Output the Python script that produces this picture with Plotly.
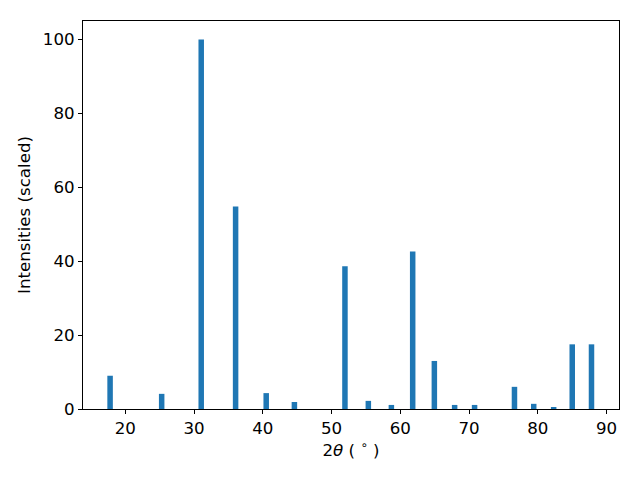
import plotly.graph_objects as go

two_theta = [17.8, 25.3, 31.05, 36.05, 40.5, 44.6, 51.95, 55.35, 58.7, 61.8,
             64.95, 67.9, 70.8, 76.6, 79.4, 82.3, 85.0, 87.8]
intensity = [9.0, 4.1, 100.0, 54.8, 4.3, 1.9, 38.6, 2.2, 1.1, 42.6,
             13.0, 1.1, 1.1, 6.0, 1.4, 0.5, 17.5, 17.5]

fig = go.Figure(go.Bar(x=two_theta, y=intensity, width=0.8,
                       marker=dict(color="#1f77b4", line=dict(width=0))))

FS = 16.67
axis_common = dict(showgrid=False, zeroline=False, showline=True, linecolor="black",
                   linewidth=1, mirror=True, ticks="outside", ticklen=4, tickwidth=1,
                   tickcolor="black", tickfont=dict(size=FS, color="black"))

fig.update_layout(
    width=632, height=472,
    margin=dict(l=75, r=21, t=13, b=71),
    paper_bgcolor="white", plot_bgcolor="white",
    font=dict(family="DejaVu Sans", size=FS, color="black"),
    showlegend=False,
    xaxis=dict(range=[13.86, 91.8], tickvals=[20, 30, 40, 50, 60, 70, 80, 90],
               title=dict(text="2<i>θ</i> ( <sup>∘</sup> )", font=dict(size=FS), standoff=6),
               **axis_common),
    yaxis=dict(range=[0, 105], tickvals=[0, 20, 40, 60, 80, 100],
               title=dict(text="Intensities (scaled)", font=dict(size=FS), standoff=8),
               **axis_common),
)

fig.write_html("out.html")
